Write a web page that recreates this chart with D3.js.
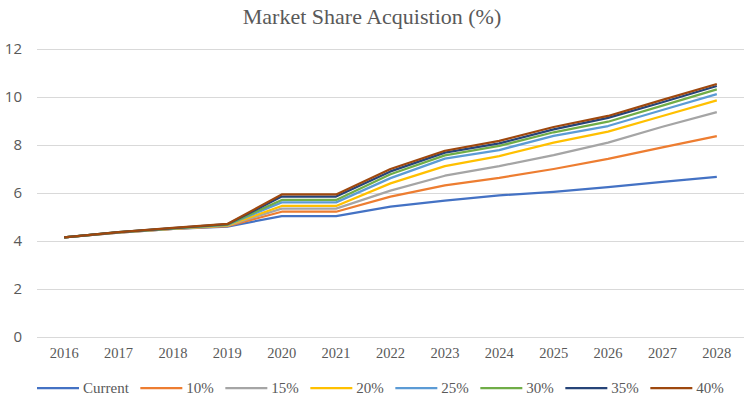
<!DOCTYPE html>
<html lang="en">
<head>
    <meta charset="utf-8">
    <title>Market Share Acquistion</title>
    <script src="https://cdn.jsdelivr.net/npm/d3@7"></script>
    <style>
        body { margin: 0; background: #fff; }
        .title { font-family: "Liberation Serif", "Times New Roman", serif; font-size: 22px; fill: #595959; }
        .yaxis text { font-family: "Open Sans", sans-serif; font-size: 15px; fill: #595959; }
        .xaxis text { font-family: "Liberation Serif", serif; font-size: 14.5px; fill: #595959; }
        .legend text { font-family: "Liberation Serif", serif; font-size: 15px; fill: #595959; }
        .grid line { stroke: #d9d9d9; stroke-width: 1; }
    </style>
</head>
<body>
<div id="chart"></div>
<script>
    const years = ["2016", "2017", "2018", "2019", "2020", "2021", "2022", "2023", "2024", "2025", "2026", "2027", "2028"];
    const seriesNames = ["Current", "10%", "15%", "20%", "25%", "30%", "35%", "40%"];
    const colors = ["#4472C4", "#ED7D31", "#A5A5A5", "#FFC000", "#5B9BD5", "#70AD47", "#264478", "#9E480E"];
    const yTicks = [0, 2, 4, 6, 8, 10, 12];

    const current = [4.15, 4.35, 4.5, 4.6, 5.04, 5.04, 5.43, 5.68, 5.9, 6.05, 6.24, 6.46, 6.67];
    const p10 = [4.15, 4.35, 4.51, 4.62, 5.22, 5.22, 5.85, 6.32, 6.63, 7.0, 7.42, 7.9, 8.37];
    const p15 = [4.15, 4.36, 4.51, 4.64, 5.35, 5.35, 6.1, 6.72, 7.12, 7.58, 8.1, 8.76, 9.37];
    const p20 = [4.15, 4.36, 4.52, 4.65, 5.46, 5.46, 6.4, 7.12, 7.54, 8.1, 8.56, 9.21, 9.86];
    const p25 = [4.15, 4.36, 4.53, 4.67, 5.61, 5.61, 6.62, 7.43, 7.79, 8.38, 8.79, 9.46, 10.12];
    const p30 = [4.15, 4.37, 4.53, 4.68, 5.71, 5.71, 6.78, 7.57, 7.96, 8.53, 8.97, 9.64, 10.32];
    const p35 = [4.15, 4.37, 4.54, 4.7, 5.85, 5.85, 6.9, 7.68, 8.07, 8.65, 9.13, 9.78, 10.46];
    const p40 = [4.15, 4.37, 4.55, 4.71, 5.94, 5.94, 7.0, 7.76, 8.17, 8.75, 9.21, 9.88, 10.54];
    const allSeries = [current, p10, p15, p20, p25, p30, p35, p40];

    const w = 744, h = 400;
    const margin = {left: 37, right: 0, top: 49, bottom: 63};

    const svg = d3.select("#chart").append("svg")
        .attr("width", w).attr("height", h);

    const x = d3.scaleBand().domain(years).range([margin.left, w - margin.right]);
    const y = d3.scaleLinear().domain([0, 12]).range([h - margin.bottom, margin.top]);

    svg.append("text").attr("class", "title")
        .attr("x", w / 2).attr("y", 24)
        .attr("text-anchor", "middle")
        .text("Market Share Acquistion (%)");

    // gridlines
    svg.append("g").attr("class", "grid")
        .selectAll("line").data(yTicks).join("line")
        .attr("x1", margin.left).attr("x2", w - margin.right)
        .attr("y1", d => y(d) + 0.5).attr("y2", d => y(d) + 0.5);

    // y axis labels
    const yAxis = svg.append("g").attr("class", "yaxis")
        .attr("transform", "translate(" + (margin.left - 15) + ",0)")
        .call(d3.axisLeft(y).tickValues(yTicks).tickSize(0).tickPadding(0));
    yAxis.select(".domain").remove();

    // x axis labels
    const xAxis = svg.append("g").attr("class", "xaxis")
        .attr("transform", "translate(0," + (h - margin.bottom) + ")")
        .call(d3.axisBottom(x).tickSize(0).tickPadding(11));
    xAxis.select(".domain").remove();

    const line = d3.line()
        .x((d, i) => x(years[i]) + x.bandwidth() / 2)
        .y(d => y(d));

    svg.append("g").selectAll("path").data(allSeries).join("path")
        .attr("fill", "none")
        .attr("stroke", (d, i) => colors[i])
        .attr("stroke-width", 2.25)
        .attr("stroke-linejoin", "round")
        .attr("d", line);

    // legend
    const legend = svg.append("g").attr("class", "legend");
    let lx = 37;
    const ly = 388;
    seriesNames.forEach(function (name, i) {
        legend.append("line")
            .attr("x1", lx).attr("x2", lx + 42)
            .attr("y1", ly).attr("y2", ly)
            .attr("stroke", colors[i]).attr("stroke-width", 2.25);
        const t = legend.append("text")
            .attr("x", lx + 46).attr("y", ly + 5)
            .text(name);
        lx += 46 + t.node().getComputedTextLength() + 11.5;
    });
</script>
</body>
</html>
